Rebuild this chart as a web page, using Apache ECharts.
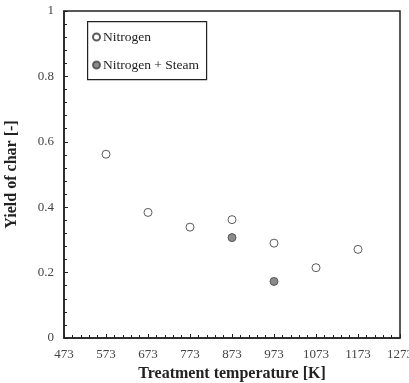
<!DOCTYPE html>
<html>
<head>
<meta charset="utf-8">
<script src="https://cdn.jsdelivr.net/npm/echarts@6/dist/echarts.min.js"></script>
<style>
  html, body { margin: 0; padding: 0; background: #fff; }
  #main { width: 409px; height: 383px; }
</style>
</head>
<body>
<div id="main"></div>
<script>
var nitrogenTemp = [573, 673, 773, 873, 973, 1073, 1173];
var nitrogenYield = [0.562, 0.384, 0.339, 0.362, 0.290, 0.215, 0.271];
var steamTemp = [873, 973];
var steamYield = [0.307, 0.173];

var serif = '"Liberation Serif", "DejaVu Serif", serif';

function pairs(xs, ys) {
  return xs.map(function (x, i) { return [x, ys[i]]; });
}

var chart = echarts.init(document.getElementById('main'));
chart.setOption({
  animation: false,
  backgroundColor: '#fff',
  grid: {
    left: 64, right: 9, top: 11, bottom: 45,
    containLabel: false, outerBoundsMode: 'none',
    show: true, borderColor: '#222', borderWidth: 1.5
  },
  xAxis: {
    type: 'value', min: 473, max: 1273, interval: 100,
    name: 'Treatment temperature [K]',
    nameLocation: 'middle', nameGap: 25,
    nameTextStyle: { fontFamily: serif, fontWeight: 'bold', fontSize: 16, color: '#222' },
    axisLine: { lineStyle: { color: '#222', width: 1.5 } },
    axisTick: { inside: true, length: 4, lineStyle: { color: '#222' } },
    minorTick: { show: true, splitNumber: 5, length: 3, lineStyle: { color: '#222' } },
    splitLine: { show: false },
    axisLabel: {
      fontFamily: serif, fontSize: 13, color: '#444', margin: 10,
      formatter: function (v) { return String(v); }
    }
  },
  yAxis: {
    type: 'value', min: 0, max: 1, interval: 0.2,
    name: 'Yield of char [-]',
    nameLocation: 'middle', nameGap: 44,
    nameTextStyle: { fontFamily: serif, fontWeight: 'bold', fontSize: 16, color: '#222' },
    axisLine: { lineStyle: { color: '#222', width: 1.5 } },
    axisTick: { inside: true, length: 4, lineStyle: { color: '#222' } },
    minorTick: { show: true, splitNumber: 5, length: 3, lineStyle: { color: '#222' } },
    splitLine: { show: false },
    axisLabel: { fontFamily: serif, fontSize: 13, color: '#444', margin: 10 }
  },
  graphic: [{
    type: 'rect', left: 87, top: 21,
    shape: { width: 119, height: 58 },
    style: { fill: '#fff', stroke: '#222', lineWidth: 1.2 },
    z: 5
  }],
  legend: {
    orient: 'vertical', left: 87, top: 25, z: 10,
    itemWidth: 7, itemHeight: 7, itemGap: 14,
    icon: 'circle',
    textStyle: { fontFamily: serif, fontSize: 13.5, color: '#222', padding: [0, 0, 0, -2] },
    data: ['Nitrogen', 'Nitrogen + Steam']
  },
  series: [{
    name: 'Nitrogen', type: 'scatter', symbol: 'circle', symbolSize: 8,
    itemStyle: { color: '#fff', borderColor: '#333', borderWidth: 1 },
    data: pairs(nitrogenTemp, nitrogenYield)
  }, {
    name: 'Nitrogen + Steam', type: 'scatter', symbol: 'circle', symbolSize: 8,
    itemStyle: { color: '#6e6e6e', borderColor: '#444', borderWidth: 1 },
    data: pairs(steamTemp, steamYield)
  }]
});
</script>
</body>
</html>
